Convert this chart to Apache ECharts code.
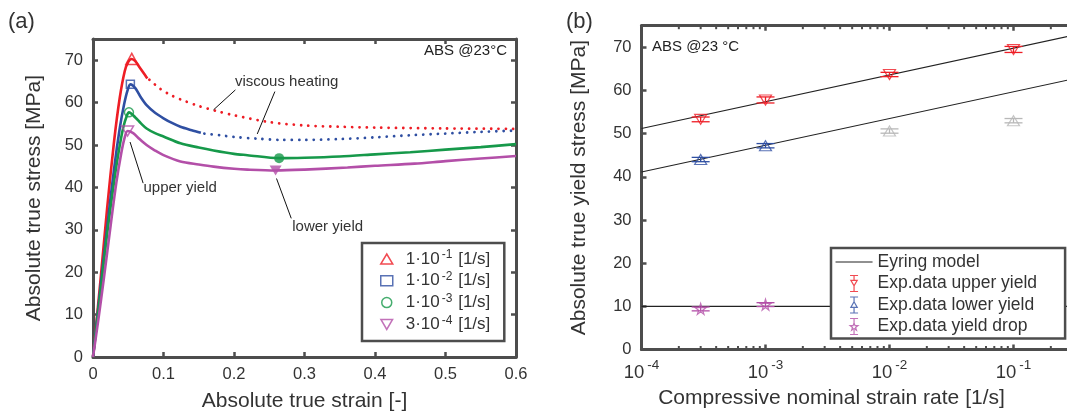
<!DOCTYPE html>
<html>
<head>
<meta charset="utf-8">
<script src="https://cdn.jsdelivr.net/npm/echarts@6/dist/echarts.min.js"></script>
<style>
  html, body { margin: 0; padding: 0; background: #fff; }
  #chart { width: 1067px; height: 414px; }
</style>
</head>
<body>
<div id="chart"></div>
<script>
// ---------- (a) true stress vs true strain, ABS at 23 °C ----------
const strainTickLabels = ['0', '0.1', '0.2', '0.3', '0.4', '0.5', '0.6'];
const stressTickLabels = ['0', '10', '20', '30', '40', '50', '60', '70'];

const rateKeys = ['1e-1', '1e-2', '1e-3', '3e-4'];
const rateMantissa = ['1', '1', '1', '3'];
const rateExponent = ['-1', '-2', '-3', '-4'];

// measured curves [strain, stress MPa]
const curve1e1 = [[0,0],[0.01,17],[0.02,35],[0.03,51],[0.038,61.2],[0.045,67.4],[0.05,69.6],[0.055,70.3],[0.06,69.8],[0.065,68.6],[0.07,67.4],[0.077,65.7]];
const curve1e2 = [[0,0],[0.01,15.5],[0.02,30.5],[0.03,44.5],[0.038,54],[0.044,59.5],[0.049,62.9],[0.053,64.3],[0.06,63.4],[0.068,61.2],[0.076,59.4],[0.088,57.6],[0.1,56.3],[0.112,55.2],[0.124,54.3],[0.14,53.5],[0.153,52.9]];
const curve1e3 = [[0,0],[0.01,14.5],[0.02,29],[0.03,41.5],[0.037,49],[0.043,54.2],[0.048,56.9],[0.051,57.7],[0.06,56.5],[0.068,55.1],[0.076,53.9],[0.088,52.8],[0.1,52.0],[0.124,50.4],[0.15,49.4],[0.171,48.7],[0.2,47.9],[0.219,47.6],[0.264,46.9],[0.3,47.0],[0.35,47.3],[0.4,47.8],[0.45,48.3],[0.5,48.9],[0.55,49.5],[0.6,50.2]];
const curve3e4 = [[0,0],[0.0075,8.7],[0.015,18],[0.025,31],[0.033,41],[0.04,48],[0.045,51.8],[0.049,53.3],[0.057,52.8],[0.066,51.4],[0.076,50.0],[0.088,48.7],[0.1,47.6],[0.124,46.1],[0.15,45.4],[0.171,44.9],[0.2,44.4],[0.219,44.2],[0.259,44.0],[0.3,44.2],[0.361,44.7],[0.4,45.1],[0.456,45.6],[0.5,46.2],[0.55,46.8],[0.6,47.4]];

// continuation affected by viscous heating (dotted)
const heating1e1 = [[0.08,65.4],[0.095,63.3],[0.11,61.8],[0.125,60.7],[0.15,59.2],[0.175,58.0],[0.2,57.0],[0.25,55.4],[0.3,54.6],[0.35,54.3],[0.4,54.1],[0.5,53.9],[0.6,53.8]];
const heating1e2 = [[0.158,52.7],[0.18,52.3],[0.2,51.9],[0.233,51.5],[0.266,51.2],[0.3,51.2],[0.35,51.4],[0.4,51.8],[0.45,52.3],[0.5,52.7],[0.55,53.1],[0.6,53.4]];

// upper yield points (peaks) and lower yield points (minima)
const upperYieldPts = [[0.055,70.3],[0.053,64.3],[0.051,57.7],[0.049,53.3]];
const lowerYield1e3 = [[0.264,46.9]];
const lowerYield3e4 = [[0.259,44.0]];

// ---------- (b) yield stress vs compressive nominal strain rate ----------
const rates = [3e-4, 1e-3, 1e-2, 1e-1];
const upperYield = [53.3, 57.8, 63.7, 69.5];
const upperErr = [0.55, 0.7, 0.5, 0.7];
const lowerYieldFit = [44.0, 47.2];           // 3e-4, 1e-3 (used for the fit)
const lowerYieldFitErr = [0.5, 0.5];
const lowerYieldOther = [50.6, 53.0];         // 1e-2, 1e-1 (excluded, grey)
const lowerYieldOtherErr = [0.5, 0.5];
const yieldDrop = [9.4, 10.4];                // 3e-4, 1e-3
const yieldDropErr = [0.45, 0.45];
const eyringUpper = [[1e-4, 51.2], [1, 76.0]];
const eyringLower = [[1e-4, 41.1], [1, 65.9]];
const eyringDrop = [[1e-4, 10.0], [1, 10.0]];

// ---------- styling ----------
const FONT = '"Liberation Sans", Arial, Helvetica, sans-serif';
const AX = '#4d4d4d';
const TXT = '#333333';
const C = { red: '#ee1d25', blue: '#2f4fa2', green: '#16994a', mag: '#b34fa8', grey: '#b8b8b8', fit: '#222222' };
const curveColors = [C.red, C.blue, C.green, C.mag];
const CLEAR = 'rgba(255,255,255,0)';
const INV_TRI = 'path://M0,0 L100,0 L50,86 Z';
const STAR = 'path://M50,0 L61,35 L98,35 L68,57 L79,91 L50,70 L21,91 L32,57 L2,35 L39,35 Z';
const peakSymbols = ['triangle', 'rect', 'circle', INV_TRI];
const peakSizes = [[12, 11], [8, 8], [9, 9], [12, 10]];

const chart = echarts.init(document.getElementById('chart'), null, { renderer: 'canvas' });

function frameAxis(extra) {
  return Object.assign({
    axisLine: { show: true, onZero: false, lineStyle: { color: AX, width: 3 } },
    axisTick: { show: true, inside: true, length: 5, lineStyle: { color: AX, width: 2.5 } },
    splitLine: { show: false },
    axisLabel: { show: false }
  }, extra);
}

const tickLabelStyle = { color: TXT, fontSize: 16.5, fontFamily: FONT };
const nameStyle = { color: TXT, fontSize: 21, fontFamily: FONT };

// error bars drawn through the axes' own coordinate mapping
function errorBars(xs, ys, errs, color, xi, yi) {
  return {
    type: 'custom', xAxisIndex: xi, yAxisIndex: yi, silent: true, z: 3,
    encode: { x: 0, y: [1, 2] },
    data: xs.map((x, i) => [x, ys[i] - errs[i], ys[i] + errs[i]]),
    renderItem(params, api) {
      const lo = api.coord([api.value(0), api.value(1)]);
      const hi = api.coord([api.value(0), api.value(2)]);
      const hw = 9;
      const st = { stroke: color, lineWidth: 1.3 };
      return { type: 'group', children: [
        { type: 'line', shape: { x1: lo[0], y1: lo[1], x2: hi[0], y2: hi[1] }, style: st },
        { type: 'line', shape: { x1: lo[0] - hw, y1: lo[1], x2: lo[0] + hw, y2: lo[1] }, style: st },
        { type: 'line', shape: { x1: hi[0] - hw, y1: hi[1], x2: hi[0] + hw, y2: hi[1] }, style: st }
      ] };
    }
  };
}

// minor ticks of the log axis at 2..9 x 10^n
const minorTickValues = [];
for (let e = -4; e < 0; e++) for (let k = 2; k <= 9; k++) minorTickValues.push(k * Math.pow(10, e));

const series = [];

// (a) solid curves
[curve1e1, curve1e2, curve1e3, curve3e4].forEach((d, i) => {
  series.push({
    type: 'line', name: 'curve' + rateKeys[i], xAxisIndex: 0, yAxisIndex: 0,
    data: d, showSymbol: false, symbol: 'none', smooth: 0.3, z: 2 + i * 0.1,
    lineStyle: { color: curveColors[i], width: 2.6 }, silent: true
  });
});
// (a) dotted continuations
[heating1e1, heating1e2].forEach((d, i) => {
  series.push({
    type: 'line', name: 'heat' + rateKeys[i], xAxisIndex: 0, yAxisIndex: 0,
    data: d, showSymbol: false, symbol: 'none', smooth: 0.3,
    lineStyle: { color: curveColors[i], width: 2.8, type: [0.01, 7.3], cap: 'round' }, silent: true
  });
});
// (a) upper yield markers (legend entries)
upperYieldPts.forEach((p, i) => {
  series.push({
    type: 'scatter', name: rateKeys[i], xAxisIndex: 0, yAxisIndex: 0,
    data: [p], symbol: peakSymbols[i], symbolSize: peakSizes[i], z: 5,
    itemStyle: { color: CLEAR, borderColor: curveColors[i], borderWidth: 1.5 }
  });
});
// (a) lower yield markers
series.push({
  type: 'scatter', name: 'ly1e-3', xAxisIndex: 0, yAxisIndex: 0, data: lowerYield1e3,
  symbol: 'circle', symbolSize: 10, z: 5, itemStyle: { color: C.green }
});
series.push({
  type: 'scatter', name: 'ly3e-4', xAxisIndex: 0, yAxisIndex: 0, data: lowerYield3e4,
  symbol: INV_TRI, symbolSize: [12, 10], z: 5, itemStyle: { color: C.mag }
});

// (b) Eyring model lines
[eyringUpper, eyringLower, eyringDrop].forEach(d => {
  series.push({
    type: 'line', name: 'Eyring model', xAxisIndex: 2, yAxisIndex: 2, data: d,
    symbol: 'none', showSymbol: false, clip: true, z: 2,
    lineStyle: { color: C.fit, width: 1.1 }, itemStyle: { color: C.fit }
  });
});
// (b) error bars
series.push(errorBars(rates, upperYield, upperErr, C.red, 2, 2));
series.push(errorBars(rates.slice(0, 2), lowerYieldFit, lowerYieldFitErr, C.blue, 2, 2));
series.push(errorBars(rates.slice(2), lowerYieldOther, lowerYieldOtherErr, C.grey, 2, 2));
series.push(errorBars(rates.slice(0, 2), yieldDrop, yieldDropErr, C.mag, 2, 2));
// (b) markers
series.push({
  type: 'scatter', name: 'Exp.data upper yield', xAxisIndex: 2, yAxisIndex: 2,
  data: rates.map((r, i) => [r, upperYield[i]]), symbol: INV_TRI, symbolSize: [12, 10], z: 4,
  itemStyle: { color: CLEAR, borderColor: C.red, borderWidth: 1.2 }
});
series.push({
  type: 'scatter', name: 'Exp.data lower yield', xAxisIndex: 2, yAxisIndex: 2,
  data: rates.slice(0, 2).map((r, i) => [r, lowerYieldFit[i]]), symbol: 'triangle', symbolSize: [12, 10], z: 4,
  itemStyle: { color: CLEAR, borderColor: C.blue, borderWidth: 1.2 }
});
series.push({
  type: 'scatter', name: 'lowerExcluded', xAxisIndex: 2, yAxisIndex: 2,
  data: rates.slice(2).map((r, i) => [r, lowerYieldOther[i]]), symbol: 'triangle', symbolSize: [12, 10], z: 4,
  itemStyle: { color: CLEAR, borderColor: C.grey, borderWidth: 1.2 }
});
series.push({
  type: 'scatter', name: 'Exp.data yield drop', xAxisIndex: 2, yAxisIndex: 2,
  data: rates.slice(0, 2).map((r, i) => [r, yieldDrop[i]]), symbol: STAR, symbolSize: 11, z: 4,
  itemStyle: { color: CLEAR, borderColor: C.mag, borderWidth: 1.2 }
});
// (b) log minor ticks, bottom and top
series.push({
  type: 'custom', xAxisIndex: 2, yAxisIndex: 2, silent: true, z: 6,
  data: minorTickValues.map(v => [v]),
  renderItem(params, api) {
    const b = api.coord([api.value(0), 0]);
    const t = api.coord([api.value(0), 75]);
    const st = { stroke: AX, lineWidth: 2 };
    return { type: 'group', children: [
      { type: 'line', shape: { x1: b[0], y1: b[1], x2: b[0], y2: b[1] - 3.5 }, style: st },
      { type: 'line', shape: { x1: t[0], y1: t[1], x2: t[0], y2: t[1] + 3.5 }, style: st }
    ] };
  }
});

const errIcon = {
  up: 'path://M0,0 L10,0 M5,0 L5,6 M1,6 L9,6 L5,13 Z M5,13 L5,20 M0,20 L10,20',
  low: 'path://M0,0 L10,0 M5,0 L5,6 M5,6 L9,13 L1,13 Z M5,13 L5,20 M0,20 L10,20',
  drop: 'path://M0,0 L10,0 M5,0 L5,5.5 M5,5.5 L6.2,9 L9.8,9 L6.9,11.2 L8,14.6 L5,12.5 L2,14.6 L3.1,11.2 L0.2,9 L3.8,9 Z M5,14 L5,20 M0,20 L10,20'
};

const option = {
  animation: false,
  backgroundColor: '#ffffff',
  textStyle: { fontFamily: FONT },
  grid: [
    { left: 93, right: 551, top: 39, bottom: 57, containLabel: false, outerBoundsMode: 'none' },
    { left: 641.5, right: -70.5, top: 25.7, bottom: 64.5, containLabel: false, outerBoundsMode: 'none' }
  ],
  xAxis: [
    frameAxis({
      gridIndex: 0, type: 'value', position: 'bottom', min: 0, max: 0.6, interval: 0.1,
      axisLabel: { show: true, margin: 9, ...tickLabelStyle,
        formatter: v => strainTickLabels[Math.round(v * 10)] },
      name: 'Absolute true strain [-]', nameLocation: 'middle', nameGap: 34, nameTextStyle: nameStyle
    }),
    frameAxis({ gridIndex: 0, type: 'value', position: 'top', min: 0, max: 0.6, interval: 0.1 }),
    frameAxis({
      gridIndex: 1, type: 'log', logBase: 10, position: 'bottom', min: 1e-4, max: 1,
      axisLabel: { show: true, margin: 9, color: TXT, fontFamily: FONT,
        formatter: v => '{b|10}{s|' + Math.round(Math.log10(v)) + '}',
        rich: {
          b: { fontSize: 18.5, color: TXT, fontFamily: FONT, lineHeight: 24, verticalAlign: 'bottom' },
          s: { fontSize: 13.5, color: TXT, fontFamily: FONT, lineHeight: 14, verticalAlign: 'top', padding: [0, 0, 0, 3] }
        } },
      name: 'Compressive nominal strain rate [1/s]', nameLocation: 'middle', nameGap: 34,
      nameTextStyle: Object.assign({ padding: [0, 116, 0, 0] }, nameStyle)
    }),
    frameAxis({ gridIndex: 1, type: 'log', logBase: 10, position: 'top', min: 1e-4, max: 1 })
  ],
  yAxis: [
    frameAxis({
      gridIndex: 0, type: 'value', position: 'left', min: 0, max: 75, interval: 10,
      axisLabel: { show: true, margin: 10, showMaxLabel: false, ...tickLabelStyle,
        formatter: v => stressTickLabels[Math.round(v / 10)] || '' },
      name: 'Absolute true stress [MPa]', nameLocation: 'middle', nameGap: 48, nameTextStyle: nameStyle
    }),
    frameAxis({ gridIndex: 0, type: 'value', position: 'right', min: 0, max: 75, interval: 10 }),
    frameAxis({
      gridIndex: 1, type: 'value', position: 'left', min: 0, max: 75, interval: 10,
      axisLabel: { show: true, margin: 10, showMaxLabel: false, ...tickLabelStyle,
        formatter: v => stressTickLabels[Math.round(v / 10)] || '' },
      name: 'Absolute true yield stress [MPa]', nameLocation: 'middle', nameGap: 52, nameTextStyle: nameStyle
    }),
    frameAxis({ gridIndex: 1, type: 'value', position: 'right', min: 0, max: 75, interval: 10 })
  ],
  legend: [
    {
      data: rateKeys.map((k, i) => ({
        name: k, icon: peakSymbols[i],
        itemStyle: { color: CLEAR, borderColor: curveColors[i], borderWidth: 1.5 }
      })),
      orient: 'vertical', left: 362, top: 243, selectedMode: false,
      itemWidth: 12, itemHeight: 10, itemGap: 3.3, symbolKeepAspect: true,
      padding: [6, 14, 8, 18],
      backgroundColor: '#ffffff', borderColor: AX, borderWidth: 2.5, borderRadius: 0,
      formatter: name => {
        const i = rateKeys.indexOf(name);
        return '{g|}{b|' + rateMantissa[i] + '\u00b710}{s|' + rateExponent[i] + '}{b| [1/s]}';
      },
      textStyle: {
        color: TXT, fontFamily: FONT, fontSize: 17,
        rich: {
          g: { width: 8, lineHeight: 20 },
          b: { fontSize: 17, color: TXT, fontFamily: FONT, lineHeight: 20 },
          s: { fontSize: 12, color: TXT, fontFamily: FONT, lineHeight: 13, verticalAlign: 'top', padding: [0, 1, 0, 2] }
        }
      }
    },
    {
      data: [
        { name: 'Eyring model', itemStyle: { opacity: 0 }, lineStyle: { color: C.fit, width: 1.1 } },
        { name: 'Exp.data upper yield', icon: errIcon.up, itemStyle: { color: CLEAR, borderColor: C.red, borderWidth: 1.2 } },
        { name: 'Exp.data lower yield', icon: errIcon.low, itemStyle: { color: CLEAR, borderColor: C.blue, borderWidth: 1.2 } },
        { name: 'Exp.data yield drop', icon: errIcon.drop, itemStyle: { color: CLEAR, borderColor: C.mag, borderWidth: 1.2 } }
      ],
      orient: 'vertical', left: 831, top: 248, selectedMode: false,
      itemWidth: 37, itemHeight: 16, itemGap: 1.5, symbolKeepAspect: true,
      padding: [4, 28, 2, 4],
      backgroundColor: '#ffffff', borderColor: AX, borderWidth: 2.5, borderRadius: 0,
      textStyle: { color: TXT, fontFamily: FONT, fontSize: 17.5, lineHeight: 20 }
    }
  ],
  series: series
};

chart.setOption(option);

// ---------- annotations: text and leader lines in data coordinates of panel (a) ----------
const annotationTexts = [
  { text: 'viscous heating', at: [0.2013, 64.9] },
  { text: 'upper yield', at: [0.0716, 39.9] },
  { text: 'lower yield', at: [0.2826, 30.8] }
];
const leaderLines = [
  [[0.202, 63.0], [0.171, 58.3]],
  [[0.258, 62.6], [0.233, 52.6]],
  [[0.0526, 50.7], [0.0711, 41.0]],
  [[0.2603, 42.1], [0.2812, 32.7]]
];
const toPx = p => chart.convertToPixel({ gridIndex: 0 }, p);

const graphics = [];
annotationTexts.forEach(a => {
  const p = toPx(a.at);
  graphics.push({ type: 'text', x: p[0], y: p[1], z: 10,
    style: { text: a.text, fill: TXT, font: '15px ' + FONT, textAlign: 'left', textVerticalAlign: 'middle' } });
});
leaderLines.forEach(l => {
  const a = toPx(l[0]), b = toPx(l[1]);
  graphics.push({ type: 'line', z: 10, shape: { x1: a[0], y1: a[1], x2: b[0], y2: b[1] },
    style: { stroke: '#111', lineWidth: 1 } });
});
// panel letters and material/temperature notes
graphics.push({ type: 'text', x: 8, y: 22, style: { text: '(a)', fill: TXT, font: '22px ' + FONT, textVerticalAlign: 'middle' } });
graphics.push({ type: 'text', x: 566, y: 22, style: { text: '(b)', fill: TXT, font: '22px ' + FONT, textVerticalAlign: 'middle' } });
graphics.push({ type: 'text', x: 507, y: 51, z: 10, style: { text: 'ABS @23\u00b0C', fill: '#222', font: '15px ' + FONT, textAlign: 'right', textVerticalAlign: 'middle' } });
graphics.push({ type: 'text', x: 652, y: 47, z: 10, style: { text: 'ABS @23 \u00b0C', fill: '#222', font: '15px ' + FONT, textAlign: 'left', textVerticalAlign: 'middle' } });

chart.setOption({ graphic: graphics });
</script>
</body>
</html>
